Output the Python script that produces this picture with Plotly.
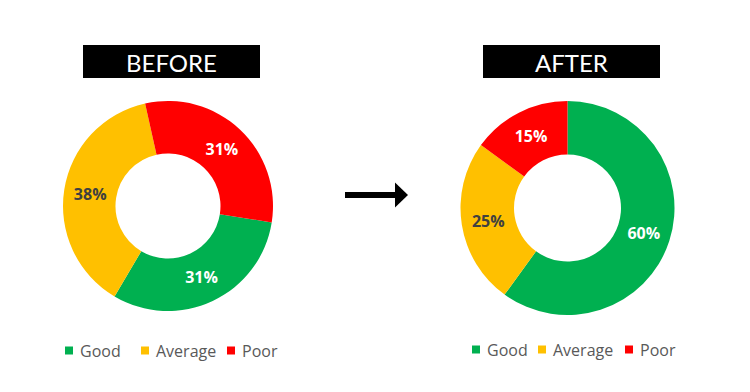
import plotly.graph_objects as go

labels = ["Good", "Average", "Poor"]
before_values = [31, 38, 31]
after_values = [60, 25, 15]
colors = ["#00B050", "#FFC000", "#FF0000"]
text_colors = ["white", "#404040", "white"]
titles = ["BEFORE", "AFTER"]

# page has an 8px body margin; the figure fills the rest of the 750x392 window
OFF = 8
W, H = 750 - OFF, 392 - OFF


def px(x):
    return (x - OFF) / W


def py(y):
    return 1 - (y - OFF) / H


fig = go.Figure()

pie_domains = [
    dict(x=[px(63), px(273)], y=[py(311), py(101)]),
    dict(x=[px(460), px(675)], y=[py(315), py(101)]),
]
rotations = [99, 0]

for vals, dom, rot in zip([before_values, after_values], pie_domains, rotations):
    fig.add_trace(go.Pie(
        labels=labels, values=vals, hole=0.5, sort=False,
        direction="clockwise", rotation=rot,
        marker=dict(colors=colors, line=dict(width=0)),
        textinfo="percent", textposition="inside",
        insidetextorientation="horizontal",
        textfont=dict(family="Open Sans", size=16, color=text_colors, weight="bold"),
        domain=dom, showlegend=False, hoverinfo="label+percent",
    ))

shapes = []
annotations = []

# title boxes
title_boxes = [(83, 260), (483, 660)]
for t, (x0, x1) in zip(titles, title_boxes):
    shapes.append(dict(type="rect", xref="paper", yref="paper", x0=px(x0), x1=px(x1),
                       y0=py(78), y1=py(45), fillcolor="black", line=dict(width=0), layer="above"))
    annotations.append(dict(text=t, x=px((x0 + x1) / 2), y=py(62), xref="paper", yref="paper",
                            showarrow=False, font=dict(family="Lato", size=24, color="white"),
                            xanchor="center", yanchor="middle"))

# arrow
shapes.append(dict(type="rect", xref="paper", yref="paper", x0=px(345), x1=px(396),
                   y0=py(198), y1=py(192), fillcolor="black", line=dict(width=0)))
shapes.append(dict(type="path", xref="paper", yref="paper",
                   path=f"M {px(395)},{py(182.5)} L {px(408)},{py(195)} L {px(395)},{py(207.5)} Z",
                   fillcolor="black", line=dict(width=0)))

# legends (one under each donut)
legend_square_x = [[65, 141, 227], [472, 538, 625]]
legend_y = [350.5, 349.5]
for sq_xs, ly in zip(legend_square_x, legend_y):
    for lab, col, sx in zip(labels, colors, sq_xs):
        shapes.append(dict(type="rect", xref="paper", yref="paper", x0=px(sx), x1=px(sx + 8),
                           y0=py(ly + 4), y1=py(ly - 4), fillcolor=col, line=dict(width=0)))
        annotations.append(dict(text=lab, x=px(sx + 13), y=py(ly), xref="paper", yref="paper",
                                showarrow=False, xanchor="left", yanchor="middle",
                                font=dict(family="Open Sans", size=16, color="#595959")))

fig.update_layout(
    width=W, height=H,
    margin=dict(l=0, r=0, t=0, b=0),
    paper_bgcolor="white", plot_bgcolor="white",
    shapes=shapes, annotations=annotations,
)

fig.write_html("out.html")
